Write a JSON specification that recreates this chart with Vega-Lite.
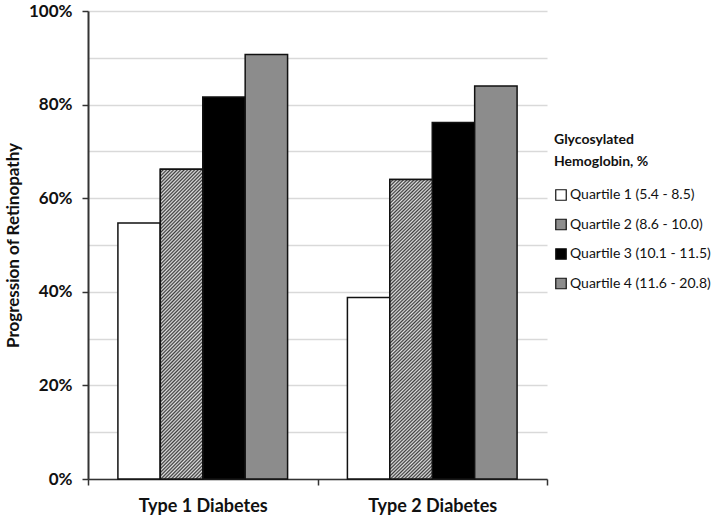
{
  "$schema": "https://vega.github.io/schema/vega-lite/v6.json",
  "autosize": "none",
  "width": 459,
  "height": 468,
  "padding": {"left": 88, "top": 11, "right": 164, "bottom": 42},
  "background": "white",
  "config": {
    "view": {"stroke": null},
    "font": "Lato"
  },
  "data": {
    "values": [
      {"type": "Type 1 Diabetes", "quartile": "Quartile 1 (5.4 - 8.5)", "value": 0.547},
      {"type": "Type 1 Diabetes", "quartile": "Quartile 2 (8.6 - 10.0)", "value": 0.662},
      {"type": "Type 1 Diabetes", "quartile": "Quartile 3 (10.1 - 11.5)", "value": 0.816},
      {"type": "Type 1 Diabetes", "quartile": "Quartile 4 (11.6 - 20.8)", "value": 0.907},
      {"type": "Type 2 Diabetes", "quartile": "Quartile 1 (5.4 - 8.5)", "value": 0.388},
      {"type": "Type 2 Diabetes", "quartile": "Quartile 2 (8.6 - 10.0)", "value": 0.640},
      {"type": "Type 2 Diabetes", "quartile": "Quartile 3 (10.1 - 11.5)", "value": 0.762},
      {"type": "Type 2 Diabetes", "quartile": "Quartile 4 (11.6 - 20.8)", "value": 0.840}
    ]
  },
  "encoding": {
    "x": {
      "field": "type", "type": "nominal",
      "scale": {"paddingInner": 0, "paddingOuter": 0},
      "axis": {
        "title": null, "labelAngle": 0, "tickBand": "extent",
        "labelFont": "Lato", "labelFontSize": 18, "labelFontWeight": "bold", "labelColor": "#111",
        "labelPadding": 12, "tickSize": 6, "tickColor": "#333", "tickWidth": 1.5,
        "domainColor": "#333", "domainWidth": 1.5
      }
    },
    "xOffset": {
      "field": "quartile", "type": "nominal",
      "scale": {"paddingInner": 0, "paddingOuter": 0.705}
    },
    "y": {
      "field": "value", "type": "quantitative",
      "scale": {"domain": [0, 1], "nice": false},
      "axis": {
        "title": "Progression of Retinopathy",
        "titleFont": "Lato", "titleFontSize": 17, "titleFontWeight": "bold", "titleColor": "#111",
        "titlePadding": 6,
        "values": [0, 0.1, 0.2, 0.3, 0.4, 0.5, 0.6, 0.7, 0.8, 0.9, 1.0],
        "format": ".0%",
        "labelExpr": "round(datum.value*10) % 2 === 0 ? datum.label : ''",
        "labelFont": "Lato", "labelFontSize": 17, "labelFontWeight": "bold", "labelColor": "#111",
        "labelPadding": 10,
        "tickSize": 6, "tickColor": "#333", "tickWidth": 1.5,
        "tickOpacity": {"condition": {"test": "round(datum.value*10) % 2 === 0", "value": 1}, "value": 0},
        "domainColor": "#333", "domainWidth": 2,
        "grid": true, "gridColor": "#d9d9d9", "gridWidth": 1.5
      }
    }
  },
  "layer": [
    {
      "mark": {"type": "bar", "stroke": "#111", "strokeWidth": 1.5},
      "encoding": {
        "fill": {
          "field": "quartile", "type": "nominal",
          "scale": {"range": ["#ffffff", "#8e8e8e", "#000000", "#8c8c8c"]},
          "legend": {
            "title": ["Glycosylated", "Hemoglobin, %"],
            "orient": "none", "legendX": 466, "legendY": 122,
            "titleFont": "Lato", "titleFontSize": 14, "titleFontWeight": "bold", "titleColor": "#111",
            "titlePadding": 19, "titleLineHeight": 22,
            "labelFont": "Lato", "labelFontSize": 14, "labelColor": "#111",
            "labelOffset": 2, "labelLimit": 300,
            "symbolType": "square", "symbolSize": 110, "symbolStrokeColor": "#111", "symbolStrokeWidth": 1.2,
            "rowPadding": 13.5
          }
        }
      }
    },
    {
      "transform": [{"filter": "datum.quartile === 'Quartile 2 (8.6 - 10.0)'"}],
      "mark": {
        "type": "bar", "stroke": "#111", "strokeWidth": 1.5,
        "fill": {"gradient": "linear", "x1": 0, "y1": 0, "x2": 0.154, "y2": 1.117, "stops": [
          {"offset": 0, "color": "#3c3c3c"}, {"offset": 0.005, "color": "#e0e0e0"},
          {"offset": 0.01, "color": "#3c3c3c"}, {"offset": 0.015, "color": "#e0e0e0"},
          {"offset": 0.02, "color": "#3c3c3c"}, {"offset": 0.025, "color": "#e0e0e0"},
          {"offset": 0.03, "color": "#3c3c3c"}, {"offset": 0.035, "color": "#e0e0e0"},
          {"offset": 0.04, "color": "#3c3c3c"}, {"offset": 0.045, "color": "#e0e0e0"},
          {"offset": 0.05, "color": "#3c3c3c"}, {"offset": 0.055, "color": "#e0e0e0"},
          {"offset": 0.06, "color": "#3c3c3c"}, {"offset": 0.065, "color": "#e0e0e0"},
          {"offset": 0.07, "color": "#3c3c3c"}, {"offset": 0.075, "color": "#e0e0e0"},
          {"offset": 0.08, "color": "#3c3c3c"}, {"offset": 0.085, "color": "#e0e0e0"},
          {"offset": 0.09, "color": "#3c3c3c"}, {"offset": 0.095, "color": "#e0e0e0"},
          {"offset": 0.10, "color": "#3c3c3c"}, {"offset": 0.105, "color": "#e0e0e0"},
          {"offset": 0.11, "color": "#3c3c3c"}, {"offset": 0.115, "color": "#e0e0e0"},
          {"offset": 0.12, "color": "#3c3c3c"}, {"offset": 0.125, "color": "#e0e0e0"},
          {"offset": 0.13, "color": "#3c3c3c"}, {"offset": 0.135, "color": "#e0e0e0"},
          {"offset": 0.14, "color": "#3c3c3c"}, {"offset": 0.145, "color": "#e0e0e0"},
          {"offset": 0.15, "color": "#3c3c3c"}, {"offset": 0.155, "color": "#e0e0e0"},
          {"offset": 0.16, "color": "#3c3c3c"}, {"offset": 0.165, "color": "#e0e0e0"},
          {"offset": 0.17, "color": "#3c3c3c"}, {"offset": 0.175, "color": "#e0e0e0"},
          {"offset": 0.18, "color": "#3c3c3c"}, {"offset": 0.185, "color": "#e0e0e0"},
          {"offset": 0.19, "color": "#3c3c3c"}, {"offset": 0.195, "color": "#e0e0e0"},
          {"offset": 0.20, "color": "#3c3c3c"}, {"offset": 0.205, "color": "#e0e0e0"},
          {"offset": 0.21, "color": "#3c3c3c"}, {"offset": 0.215, "color": "#e0e0e0"},
          {"offset": 0.22, "color": "#3c3c3c"}, {"offset": 0.225, "color": "#e0e0e0"},
          {"offset": 0.23, "color": "#3c3c3c"}, {"offset": 0.235, "color": "#e0e0e0"},
          {"offset": 0.24, "color": "#3c3c3c"}, {"offset": 0.245, "color": "#e0e0e0"},
          {"offset": 0.25, "color": "#3c3c3c"}, {"offset": 0.255, "color": "#e0e0e0"},
          {"offset": 0.26, "color": "#3c3c3c"}, {"offset": 0.265, "color": "#e0e0e0"},
          {"offset": 0.27, "color": "#3c3c3c"}, {"offset": 0.275, "color": "#e0e0e0"},
          {"offset": 0.28, "color": "#3c3c3c"}, {"offset": 0.285, "color": "#e0e0e0"},
          {"offset": 0.29, "color": "#3c3c3c"}, {"offset": 0.295, "color": "#e0e0e0"},
          {"offset": 0.30, "color": "#3c3c3c"}, {"offset": 0.305, "color": "#e0e0e0"},
          {"offset": 0.31, "color": "#3c3c3c"}, {"offset": 0.315, "color": "#e0e0e0"},
          {"offset": 0.32, "color": "#3c3c3c"}, {"offset": 0.325, "color": "#e0e0e0"},
          {"offset": 0.33, "color": "#3c3c3c"}, {"offset": 0.335, "color": "#e0e0e0"},
          {"offset": 0.34, "color": "#3c3c3c"}, {"offset": 0.345, "color": "#e0e0e0"},
          {"offset": 0.35, "color": "#3c3c3c"}, {"offset": 0.355, "color": "#e0e0e0"},
          {"offset": 0.36, "color": "#3c3c3c"}, {"offset": 0.365, "color": "#e0e0e0"},
          {"offset": 0.37, "color": "#3c3c3c"}, {"offset": 0.375, "color": "#e0e0e0"},
          {"offset": 0.38, "color": "#3c3c3c"}, {"offset": 0.385, "color": "#e0e0e0"},
          {"offset": 0.39, "color": "#3c3c3c"}, {"offset": 0.395, "color": "#e0e0e0"},
          {"offset": 0.40, "color": "#3c3c3c"}, {"offset": 0.405, "color": "#e0e0e0"},
          {"offset": 0.41, "color": "#3c3c3c"}, {"offset": 0.415, "color": "#e0e0e0"},
          {"offset": 0.42, "color": "#3c3c3c"}, {"offset": 0.425, "color": "#e0e0e0"},
          {"offset": 0.43, "color": "#3c3c3c"}, {"offset": 0.435, "color": "#e0e0e0"},
          {"offset": 0.44, "color": "#3c3c3c"}, {"offset": 0.445, "color": "#e0e0e0"},
          {"offset": 0.45, "color": "#3c3c3c"}, {"offset": 0.455, "color": "#e0e0e0"},
          {"offset": 0.46, "color": "#3c3c3c"}, {"offset": 0.465, "color": "#e0e0e0"},
          {"offset": 0.47, "color": "#3c3c3c"}, {"offset": 0.475, "color": "#e0e0e0"},
          {"offset": 0.48, "color": "#3c3c3c"}, {"offset": 0.485, "color": "#e0e0e0"},
          {"offset": 0.49, "color": "#3c3c3c"}, {"offset": 0.495, "color": "#e0e0e0"},
          {"offset": 0.50, "color": "#3c3c3c"}, {"offset": 0.505, "color": "#e0e0e0"},
          {"offset": 0.51, "color": "#3c3c3c"}, {"offset": 0.515, "color": "#e0e0e0"},
          {"offset": 0.52, "color": "#3c3c3c"}, {"offset": 0.525, "color": "#e0e0e0"},
          {"offset": 0.53, "color": "#3c3c3c"}, {"offset": 0.535, "color": "#e0e0e0"},
          {"offset": 0.54, "color": "#3c3c3c"}, {"offset": 0.545, "color": "#e0e0e0"},
          {"offset": 0.55, "color": "#3c3c3c"}, {"offset": 0.555, "color": "#e0e0e0"},
          {"offset": 0.56, "color": "#3c3c3c"}, {"offset": 0.565, "color": "#e0e0e0"},
          {"offset": 0.57, "color": "#3c3c3c"}, {"offset": 0.575, "color": "#e0e0e0"},
          {"offset": 0.58, "color": "#3c3c3c"}, {"offset": 0.585, "color": "#e0e0e0"},
          {"offset": 0.59, "color": "#3c3c3c"}, {"offset": 0.595, "color": "#e0e0e0"},
          {"offset": 0.60, "color": "#3c3c3c"}, {"offset": 0.605, "color": "#e0e0e0"},
          {"offset": 0.61, "color": "#3c3c3c"}, {"offset": 0.615, "color": "#e0e0e0"},
          {"offset": 0.62, "color": "#3c3c3c"}, {"offset": 0.625, "color": "#e0e0e0"},
          {"offset": 0.63, "color": "#3c3c3c"}, {"offset": 0.635, "color": "#e0e0e0"},
          {"offset": 0.64, "color": "#3c3c3c"}, {"offset": 0.645, "color": "#e0e0e0"},
          {"offset": 0.65, "color": "#3c3c3c"}, {"offset": 0.655, "color": "#e0e0e0"},
          {"offset": 0.66, "color": "#3c3c3c"}, {"offset": 0.665, "color": "#e0e0e0"},
          {"offset": 0.67, "color": "#3c3c3c"}, {"offset": 0.675, "color": "#e0e0e0"},
          {"offset": 0.68, "color": "#3c3c3c"}, {"offset": 0.685, "color": "#e0e0e0"},
          {"offset": 0.69, "color": "#3c3c3c"}, {"offset": 0.695, "color": "#e0e0e0"},
          {"offset": 0.70, "color": "#3c3c3c"}, {"offset": 0.705, "color": "#e0e0e0"},
          {"offset": 0.71, "color": "#3c3c3c"}, {"offset": 0.715, "color": "#e0e0e0"},
          {"offset": 0.72, "color": "#3c3c3c"}, {"offset": 0.725, "color": "#e0e0e0"},
          {"offset": 0.73, "color": "#3c3c3c"}, {"offset": 0.735, "color": "#e0e0e0"},
          {"offset": 0.74, "color": "#3c3c3c"}, {"offset": 0.745, "color": "#e0e0e0"},
          {"offset": 0.75, "color": "#3c3c3c"}, {"offset": 0.755, "color": "#e0e0e0"},
          {"offset": 0.76, "color": "#3c3c3c"}, {"offset": 0.765, "color": "#e0e0e0"},
          {"offset": 0.77, "color": "#3c3c3c"}, {"offset": 0.775, "color": "#e0e0e0"},
          {"offset": 0.78, "color": "#3c3c3c"}, {"offset": 0.785, "color": "#e0e0e0"},
          {"offset": 0.79, "color": "#3c3c3c"}, {"offset": 0.795, "color": "#e0e0e0"},
          {"offset": 0.80, "color": "#3c3c3c"}, {"offset": 0.805, "color": "#e0e0e0"},
          {"offset": 0.81, "color": "#3c3c3c"}, {"offset": 0.815, "color": "#e0e0e0"},
          {"offset": 0.82, "color": "#3c3c3c"}, {"offset": 0.825, "color": "#e0e0e0"},
          {"offset": 0.83, "color": "#3c3c3c"}, {"offset": 0.835, "color": "#e0e0e0"},
          {"offset": 0.84, "color": "#3c3c3c"}, {"offset": 0.845, "color": "#e0e0e0"},
          {"offset": 0.85, "color": "#3c3c3c"}, {"offset": 0.855, "color": "#e0e0e0"},
          {"offset": 0.86, "color": "#3c3c3c"}, {"offset": 0.865, "color": "#e0e0e0"},
          {"offset": 0.87, "color": "#3c3c3c"}, {"offset": 0.875, "color": "#e0e0e0"},
          {"offset": 0.88, "color": "#3c3c3c"}, {"offset": 0.885, "color": "#e0e0e0"},
          {"offset": 0.89, "color": "#3c3c3c"}, {"offset": 0.895, "color": "#e0e0e0"},
          {"offset": 0.90, "color": "#3c3c3c"}, {"offset": 0.905, "color": "#e0e0e0"},
          {"offset": 0.91, "color": "#3c3c3c"}, {"offset": 0.915, "color": "#e0e0e0"},
          {"offset": 0.92, "color": "#3c3c3c"}, {"offset": 0.925, "color": "#e0e0e0"},
          {"offset": 0.93, "color": "#3c3c3c"}, {"offset": 0.935, "color": "#e0e0e0"},
          {"offset": 0.94, "color": "#3c3c3c"}, {"offset": 0.945, "color": "#e0e0e0"},
          {"offset": 0.95, "color": "#3c3c3c"}, {"offset": 0.955, "color": "#e0e0e0"},
          {"offset": 0.96, "color": "#3c3c3c"}, {"offset": 0.965, "color": "#e0e0e0"},
          {"offset": 0.97, "color": "#3c3c3c"}, {"offset": 0.975, "color": "#e0e0e0"},
          {"offset": 0.98, "color": "#3c3c3c"}, {"offset": 0.985, "color": "#e0e0e0"},
          {"offset": 0.99, "color": "#3c3c3c"}, {"offset": 0.995, "color": "#e0e0e0"},
          {"offset": 1, "color": "#3c3c3c"}
        ]}
      }
    }
  ]
}
